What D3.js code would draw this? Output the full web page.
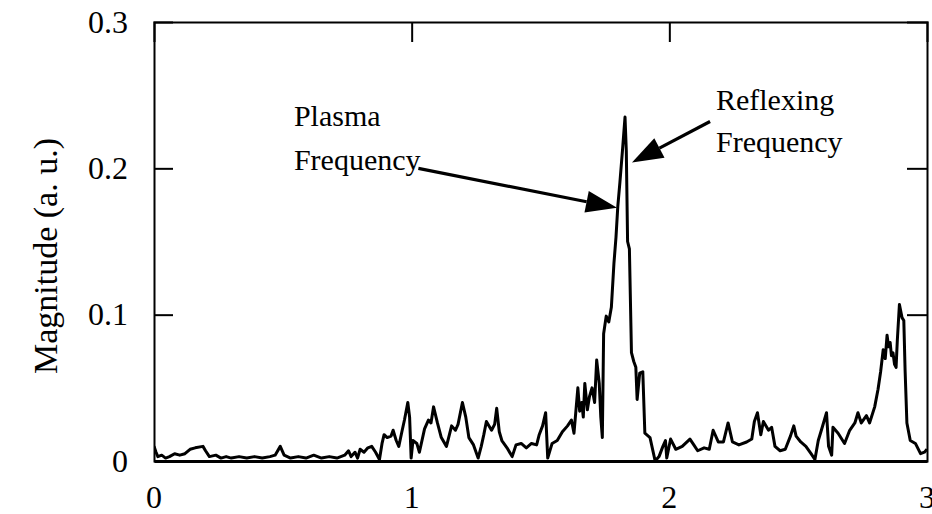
<!DOCTYPE html>
<html>
<head>
<meta charset="utf-8">
<script src="https://cdn.jsdelivr.net/npm/d3@7"></script>
<style>
  html, body { margin: 0; padding: 0; background: #fff; }
  svg { display: block; }
  text { font-family: "Liberation Serif", "Times New Roman", serif; fill: #000; }
</style>
</head>
<body>
<svg id="chart" width="932" height="514"></svg>
<script>
// ---- data ----
const freq = [
  0.000, 0.008, 0.015, 0.030, 0.045, 0.060, 0.080, 0.100, 0.120, 0.140, 0.160, 0.190, 0.200, 0.215,
  0.240, 0.260, 0.280, 0.300, 0.330, 0.360, 0.390, 0.420, 0.450, 0.470, 0.490, 0.505, 0.530, 0.560,
  0.590, 0.620, 0.650, 0.680, 0.710, 0.740, 0.755, 0.765, 0.780, 0.790, 0.800, 0.815, 0.830, 0.845,
  0.860, 0.875, 0.885, 0.893, 0.905, 0.920, 0.928, 0.940, 0.950, 0.962, 0.972, 0.985, 0.992, 0.998,
  1.005, 1.020, 1.030, 1.050, 1.065, 1.075, 1.085, 1.100, 1.115, 1.135, 1.155, 1.170, 1.180, 1.197,
  1.210, 1.222, 1.240, 1.250, 1.258, 1.270, 1.280, 1.290, 1.310, 1.322, 1.330, 1.340, 1.350, 1.370,
  1.390, 1.405, 1.425, 1.445, 1.465, 1.485, 1.495, 1.508, 1.520, 1.528, 1.545, 1.565, 1.585, 1.605,
  1.620, 1.630, 1.645, 1.652, 1.660, 1.666, 1.672, 1.682, 1.690, 1.700, 1.710, 1.718, 1.728, 1.734,
  1.740, 1.745, 1.755, 1.765, 1.775, 1.785, 1.793, 1.800, 1.808, 1.818, 1.828, 1.833, 1.838, 1.845,
  1.853, 1.862, 1.870, 1.875, 1.885, 1.897, 1.905, 1.925, 1.945, 1.960, 1.975, 1.985, 1.990, 2.005,
  2.025, 2.050, 2.080, 2.095, 2.110, 2.135, 2.155, 2.170, 2.190, 2.210, 2.228, 2.245, 2.270, 2.300,
  2.320, 2.330, 2.342, 2.355, 2.365, 2.385, 2.397, 2.410, 2.430, 2.450, 2.470, 2.483, 2.492, 2.510,
  2.530, 2.550, 2.565, 2.578, 2.590, 2.610, 2.618, 2.630, 2.635, 2.655, 2.680, 2.700, 2.720, 2.732,
  2.745, 2.765, 2.777, 2.797, 2.810, 2.820, 2.830, 2.838, 2.845, 2.851, 2.857, 2.862, 2.868, 2.874,
  2.880, 2.885, 2.893, 2.903, 2.910, 2.915, 2.922, 2.935, 2.955, 2.975, 2.990, 3.000
];
const magnitude = [
  0.010, 0.006, 0.003, 0.004, 0.002, 0.003, 0.005, 0.004, 0.005, 0.008, 0.009, 0.010, 0.007, 0.003,
  0.004, 0.002, 0.003, 0.002, 0.003, 0.002, 0.003, 0.002, 0.003, 0.004, 0.010, 0.004, 0.002, 0.003,
  0.002, 0.004, 0.002, 0.003, 0.002, 0.004, 0.007, 0.003, 0.006, 0.002, 0.008, 0.006, 0.009, 0.010,
  0.006, 0.001, 0.012, 0.018, 0.016, 0.017, 0.021, 0.014, 0.010, 0.020, 0.028, 0.040, 0.030, 0.002,
  0.014, 0.012, 0.006, 0.022, 0.028, 0.026, 0.037, 0.026, 0.016, 0.010, 0.024, 0.021, 0.025, 0.040,
  0.030, 0.016, 0.011, 0.006, 0.002, 0.010, 0.018, 0.027, 0.021, 0.025, 0.036, 0.020, 0.014, 0.009,
  0.003, 0.011, 0.012, 0.009, 0.012, 0.011, 0.018, 0.024, 0.033, 0.002, 0.012, 0.014, 0.020, 0.024,
  0.028, 0.019, 0.050, 0.034, 0.040, 0.030, 0.053, 0.035, 0.044, 0.050, 0.040, 0.069, 0.053, 0.030,
  0.016, 0.087, 0.099, 0.095, 0.105, 0.135, 0.153, 0.174, 0.190, 0.212, 0.235, 0.212, 0.150, 0.145,
  0.074, 0.068, 0.064, 0.042, 0.060, 0.061, 0.019, 0.016, 0.000, 0.003, 0.010, 0.014, 0.002, 0.015,
  0.008, 0.010, 0.015, 0.011, 0.007, 0.009, 0.008, 0.021, 0.013, 0.013, 0.026, 0.013, 0.011, 0.013,
  0.015, 0.027, 0.033, 0.018, 0.027, 0.021, 0.023, 0.010, 0.007, 0.008, 0.017, 0.024, 0.017, 0.013,
  0.010, 0.005, 0.001, 0.014, 0.021, 0.033, 0.010, 0.004, 0.023, 0.019, 0.012, 0.021, 0.026, 0.033,
  0.026, 0.031, 0.026, 0.037, 0.049, 0.061, 0.076, 0.070, 0.086, 0.078, 0.081, 0.072, 0.074, 0.066,
  0.064, 0.083, 0.107, 0.098, 0.096, 0.062, 0.026, 0.014, 0.012, 0.005, 0.006, 0.008
];
const xTicks = [0, 1, 2, 3];
const yTicks = [0, 0.1, 0.2, 0.3];
const yLabel = "Magnitude (a. u.)";
const annotations = [
  { lines: ["Plasma", "Frequency"], textX: 0.543, textY: [0.229, 0.199], tail: [1.026, 0.200], tip: [1.797, 0.173] },
  { lines: ["Reflexing", "Frequency"], textX: 2.181, textY: [0.240, 0.211], tail: [2.158, 0.232], tip: [1.855, 0.204] }
];

// ---- layout ----
const W = 932, H = 514;
const margin = { left: 154, top: 22, right: 5, bottom: 53 };
const x = d3.scaleLinear().domain([0, 3]).range([margin.left, W - margin.right]);
const y = d3.scaleLinear().domain([0, 0.3]).range([H - margin.bottom, margin.top]);
const svg = d3.select("#chart");

const FS = 32;

// data line
const pts = freq.map((f, i) => [f, magnitude[i]]);
svg.append("clipPath").attr("id", "clip").append("rect")
  .attr("x", x(0)).attr("y", y(0.3) - 2).attr("width", x(3) - x(0)).attr("height", y(0) - y(0.3) + 4);
svg.append("path")
  .datum(pts)
  .attr("clip-path", "url(#clip)")
  .attr("fill", "none")
  .attr("stroke", "#000")
  .attr("stroke-width", 3)
  .attr("stroke-linejoin", "round")
  .attr("d", d3.line().x(d => x(d[0])).y(d => y(d[1])));

// frame axes with inward ticks
const inner = yTicks.filter(v => v > 0 && v < 0.3);
const innerX = xTicks.filter(v => v > 0 && v < 3);
const leftAxis = d3.axisLeft(y).tickValues(inner).tickSize(-19).tickFormat("");
const rightAxis = d3.axisRight(y).tickValues(inner).tickSize(-20).tickFormat("");
const topAxis = d3.axisTop(x).tickValues(innerX).tickSize(-20).tickFormat("");
const bottomAxis = d3.axisBottom(x).tickValues([]).tickSize(0);

function styleAxis(g, w) {
  g.selectAll(".domain").attr("stroke", "#000").attr("stroke-width", w);
  g.selectAll(".tick line").attr("stroke", "#000").attr("stroke-width", 2);
}
svg.append("g").attr("transform", `translate(${x(0)},0)`).call(leftAxis).call(g => styleAxis(g, 2));
svg.append("g").attr("transform", `translate(${x(3)},0)`).call(rightAxis).call(g => styleAxis(g, 2));
svg.append("g").attr("transform", `translate(0,${y(0.3)})`).call(topAxis).call(g => styleAxis(g, 2));
svg.append("g").attr("transform", `translate(0,${y(0)})`).call(bottomAxis).call(g => styleAxis(g, 3));

// tick labels
svg.append("g").selectAll("text").data(yTicks).join("text")
  .attr("x", x(0) - 26)
  .attr("y", d => y(d))
  .attr("dy", "0.33em")
  .attr("text-anchor", "end")
  .attr("font-size", FS)
  .text(d => d === 0 ? "0" : d3.format(".1f")(d));

svg.append("g").selectAll("text").data(xTicks).join("text")
  .attr("x", d => x(d))
  .attr("y", y(0) + 47)
  .attr("text-anchor", "middle")
  .attr("font-size", FS)
  .text(d => d3.format("d")(d));

// y label
svg.append("text")
  .attr("transform", `translate(57, 256) rotate(-90)`)
  .attr("text-anchor", "middle")
  .attr("font-size", FS + 2)
  .text(yLabel);

// annotations
annotations.forEach(a => {
  a.lines.forEach((ln, i) => {
    svg.append("text")
      .attr("x", x(a.textX))
      .attr("y", y(a.textY[i]))
      .attr("font-size", 30)
      .text(ln);
  });
  const x1 = x(a.tail[0]), y1 = y(a.tail[1]);
  const x2 = x(a.tip[0]), y2 = y(a.tip[1]);
  const ang = Math.atan2(y2 - y1, x2 - x1);
  const headLen = 31, headHalf = 11;
  const bx = x2 - headLen * Math.cos(ang), by = y2 - headLen * Math.sin(ang);
  svg.append("line")
    .attr("x1", x1).attr("y1", y1).attr("x2", bx).attr("y2", by)
    .attr("stroke", "#000").attr("stroke-width", 3.2);
  const px = -Math.sin(ang), py = Math.cos(ang);
  svg.append("polygon")
    .attr("points", [[x2, y2], [bx + px * headHalf, by + py * headHalf], [bx - px * headHalf, by - py * headHalf]]
      .map(p => p.join(",")).join(" "))
    .attr("fill", "#000");
});
</script>
</body>
</html>
